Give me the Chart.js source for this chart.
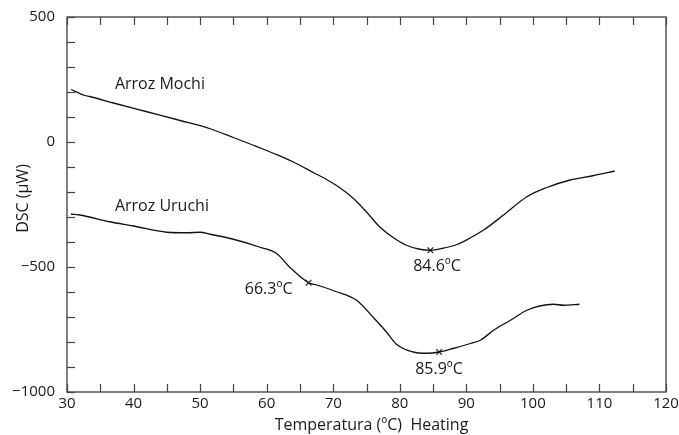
<!DOCTYPE html>
<html>
<head>
<meta charset="utf-8">
<script src="https://cdn.jsdelivr.net/npm/chart.js@4/dist/chart.umd.min.js"></script>
<style>
  html, body { margin: 0; padding: 0; background: #ffffff; }
  #wrap { width: 679px; height: 435px; position: relative; }
</style>
</head>
<body>
<div id="wrap"><canvas id="c" width="679" height="435"></canvas></div>
<script>
// ---- data ----
const mochiTemp = [30.6, 32.7, 33.4, 37, 42, 47, 51.5, 55, 58, 60, 61, 64, 67, 69, 71, 73, 75, 77, 79, 81, 83, 84.6, 86.5, 88.6, 90.5, 92.6, 95.6, 99.1, 102, 105.6, 109, 112.3];
const mochiDSC  = [210, 186, 182, 156, 121, 86, 53, 18, -13, -34, -45, -80, -122, -150, -183, -225, -280, -340, -382, -413, -429, -433, -425, -410, -385, -352, -292, -219, -183, -152, -135, -116];

const uruchiTemp = [30.6, 31.9, 36.4, 40, 45, 48, 50, 51.5, 55, 59, 61.5, 63.5, 66.3, 67.5, 70.5, 73.5, 76, 78, 79.5, 82, 84, 85.9, 88, 90.6, 92.1, 94.1, 96.5, 99.1, 101, 103.1, 104.6, 107];
const uruchiDSC  = [-289, -292, -319, -336, -361, -363, -361, -369, -389, -421, -446, -502, -563, -572, -599, -633, -701, -760, -809, -840, -845, -840, -826, -806, -793, -753, -715, -673, -656, -649, -653, -649];

const peakTemp = [84.6, 85.9, 66.3];
const peakDSC  = [-433, -840, -563];

const peakLabels   = ['84.6ºC', '85.9ºC', '66.3ºC'];
const peakLabelX   = [85.6, 85.9, 60.3];
const peakLabelY   = [-496, -908, -588];

const seriesNames  = ['Arroz Mochi', 'Arroz Uruchi'];
const seriesLabelX = [37.2, 37.2];
const seriesLabelY = [229, -256];

const xTitle = 'Temperatura (ºC)  Heating';
const yTitle = 'DSC (µW)';
const xMin = 30, xMax = 120, xStep = 5, xLabelStep = 10;
const yMin = -1000, yMax = 500, yStep = 100, yLabelStep = 500;

// ---- build ----
const toPts = (xs, ys) => xs.map((x, i) => ({ x: x, y: ys[i] }));
const FONT = '"Open Sans"';
const FSIZE = 15;
const ASIZE = 16;
const TXT = '#1a1a1a';

const decor = {
  id: 'decor',
  afterDraw(chart) {
    const ctx = chart.ctx;
    const a = chart.chartArea;
    const xs = chart.scales.x, ys = chart.scales.y;
    ctx.save();
    // frame
    ctx.strokeStyle = '#555555';
    ctx.lineWidth = 1.5;
    ctx.strokeRect(a.left, a.top, a.right - a.left, a.bottom - a.top);
    // inward ticks
    ctx.lineWidth = 1.2;
    ctx.strokeStyle = '#444444';
    xs.ticks.forEach(t => {
      const px = Math.round(xs.getPixelForValue(t.value)) + 0.5;
      ctx.beginPath();
      ctx.moveTo(px, a.bottom); ctx.lineTo(px, a.bottom - 8);
      ctx.moveTo(px, a.top); ctx.lineTo(px, a.top + 8);
      ctx.stroke();
    });
    ys.ticks.forEach(t => {
      const py = Math.round(ys.getPixelForValue(t.value)) + 0.5;
      ctx.beginPath();
      ctx.moveTo(a.left, py); ctx.lineTo(a.left + 8, py);
      ctx.stroke();
    });
    // annotations
    ctx.fillStyle = TXT;
    ctx.font = ASIZE + 'px ' + FONT;
    ctx.textBaseline = 'middle';
    ctx.textAlign = 'center';
    peakLabels.forEach((s, i) => {
      ctx.fillText(s, xs.getPixelForValue(peakLabelX[i]), ys.getPixelForValue(peakLabelY[i]));
    });
    ctx.textAlign = 'left';
    seriesNames.forEach((s, i) => {
      ctx.fillText(s, xs.getPixelForValue(seriesLabelX[i]), ys.getPixelForValue(seriesLabelY[i]));
    });
    // axis titles
    ctx.textAlign = 'center';
    ctx.fillText(xTitle, (a.left + a.right) / 2 + 5, 425);
    ctx.save();
    ctx.translate(23, (a.top + a.bottom) / 2 - 6);
    ctx.rotate(-Math.PI / 2);
    ctx.fillText(yTitle, 0, 0);
    ctx.restore();
    ctx.restore();
  }
};

new Chart(document.getElementById('c'), {
  type: 'line',
  data: {
    datasets: [
      { label: seriesNames[0], data: toPts(mochiTemp, mochiDSC), borderColor: '#111111', borderWidth: 1.3, pointRadius: 0, tension: 0.4, cubicInterpolationMode: 'monotone', fill: false },
      { label: seriesNames[1], data: toPts(uruchiTemp, uruchiDSC), borderColor: '#111111', borderWidth: 1.3, pointRadius: 0, tension: 0.4, cubicInterpolationMode: 'monotone', fill: false },
      { label: 'peaks', data: toPts(peakTemp, peakDSC), showLine: false, pointStyle: 'crossRot', pointRadius: 4, borderColor: '#222222', borderWidth: 1.2 }
    ]
  },
  options: {
    responsive: false,
    animation: false,
    layout: { padding: { top: 17, right: 13, left: 0, bottom: 0 } },
    plugins: { legend: { display: false }, tooltip: { enabled: false } },
    scales: {
      x: {
        type: 'linear', min: xMin, max: xMax,
        grid: { display: false },
        border: { display: false },
        ticks: {
          stepSize: xStep, autoSkip: false, maxRotation: 0, padding: -5,
          color: TXT, font: { family: 'Open Sans', size: FSIZE },
          callback: v => (v % xLabelStep === 0 ? String(v) : '')
        },
        afterFit: s => { s.height = 43; }
      },
      y: {
        type: 'linear', min: yMin, max: yMax,
        grid: { display: false },
        border: { display: false },
        ticks: {
          stepSize: yStep, autoSkip: false, padding: 4,
          color: TXT, font: { family: 'Open Sans', size: FSIZE },
          callback: v => (v % yLabelStep === 0 ? (v < 0 ? '\u2212' + Math.abs(v) : String(v)) : '')
        },
        afterFit: s => { s.width = 67; }
      }
    }
  },
  plugins: [decor]
});
</script>
</body>
</html>
